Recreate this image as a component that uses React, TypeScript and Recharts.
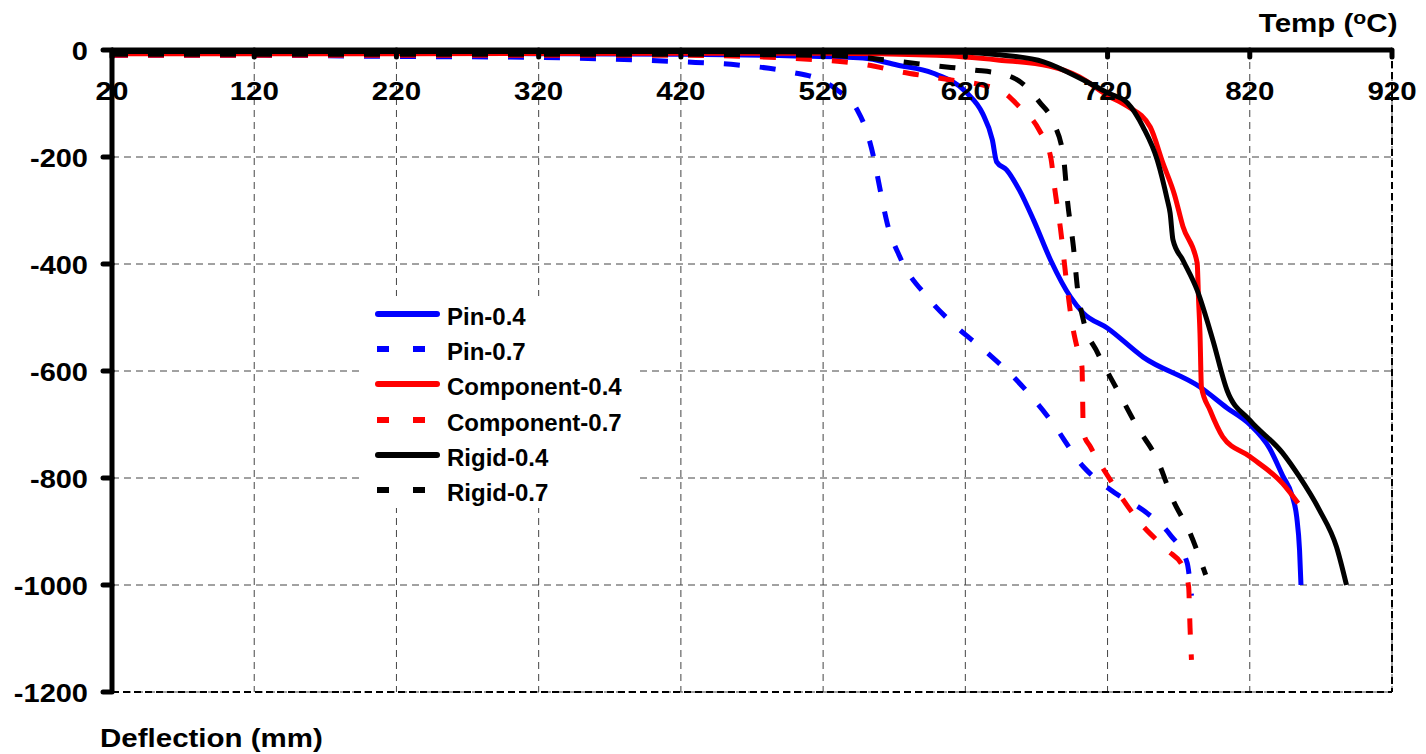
import React from 'react';
import { LineChart, Line, XAxis, YAxis, CartesianGrid, ReferenceLine, Legend } from 'recharts';

// axis ticks
const tempTicks = [20, 120, 220, 320, 420, 520, 620, 720, 820, 920];
const deflTicks = [0, -200, -400, -600, -800, -1000, -1200];

// Pin connection, load ratio 0.4 / 0.7
const pin04Temp = [20, 120, 220, 320, 420, 500, 548, 572, 597, 621, 632, 639, 642, 649, 658, 668, 680, 694, 703, 720, 745, 785, 804, 820, 834, 843, 850, 853, 855, 856];
const pin04Defl = [-6, -6, -6, -7, -8, -11, -15, -28, -43, -80, -118, -168, -209, -224, -262, -318, -393, -462, -492, -520, -574, -630, -669, -700, -745, -795, -835, -873, -935, -1000];
const pin07Temp = [20, 120, 220, 320, 420, 460, 497, 520, 530, 544, 551, 556, 560, 565, 574, 593, 611, 635, 656, 680, 703, 722, 748, 764, 776, 778, 779];
const pin07Defl = [-10, -10, -12, -14, -22, -28, -41, -58, -75, -112, -155, -206, -260, -323, -387, -461, -511, -565, -617, -692, -779, -822, -866, -906, -959, -996, -1020];

// Component-based connection
const comp04Temp = [20, 220, 420, 520, 600, 644, 679, 700, 720, 734, 750, 759, 767, 773, 783, 784, 785, 786, 792, 801, 820, 843, 854];
const comp04Defl = [-7, -7, -6, -6, -10, -19, -30, -50, -85, -105, -144, -212, -270, -330, -398, -467, -530, -630, -673, -723, -760, -810, -847];
const comp07Temp = [20, 220, 420, 520, 551, 575, 600, 644, 658, 672, 680, 683, 687, 691, 695, 699, 702, 703, 708, 722, 743, 762, 773, 777, 778, 779];
const comp07Defl = [-10, -10, -10, -19, -28, -41, -52, -75, -106, -150, -200, -262, -336, -430, -510, -561, -592, -716, -742, -804, -884, -935, -966, -1003, -1080, -1140];

// Rigid connection
const rigid04Temp = [20, 220, 420, 620, 644, 675, 703, 720, 734, 745, 755, 762, 764, 766, 773, 783, 794, 804, 820, 843, 855, 869, 881, 888];
const rigid04Defl = [-3, -3, -3, -4, -9, -22, -56, -80, -99, -144, -206, -280, -305, -355, -393, -449, -542, -636, -692, -753, -798, -860, -929, -1000];
const rigid07Temp = [20, 220, 420, 520, 551, 575, 601, 625, 649, 663, 672, 682, 689, 692, 696, 699, 703, 713, 727, 741, 755, 766, 778, 789];
const rigid07Defl = [-8, -8, -8, -10, -15, -22, -30, -37, -47, -69, -97, -136, -200, -286, -368, -449, -505, -566, -636, -705, -766, -841, -903, -981];

const toPoints = (t: number[], d: number[]) => t.map((v, i) => ({ temp: v, defl: d[i] }));

const series = [
  { name: 'Pin-0.4', color: '#0000ff', dashed: false, data: toPoints(pin04Temp, pin04Defl) },
  { name: 'Pin-0.7', color: '#0000ff', dashed: true, data: toPoints(pin07Temp, pin07Defl) },
  { name: 'Component-0.4', color: '#ff0000', dashed: false, data: toPoints(comp04Temp, comp04Defl) },
  { name: 'Component-0.7', color: '#ff0000', dashed: true, data: toPoints(comp07Temp, comp07Defl) },
  { name: 'Rigid-0.4', color: '#000000', dashed: false, data: toPoints(rigid04Temp, rigid04Defl) },
  { name: 'Rigid-0.7', color: '#000000', dashed: true, data: toPoints(rigid07Temp, rigid07Defl) },
];

const FONT = '"Liberation Sans", Arial, Helvetica, sans-serif';

// temp labels sit under the top axis line
const TempTick = (props: any) => {
  const { x, y, payload } = props;
  return (
    <g transform={`translate(${x},${y})`}>
      <line x1={0} y1={0} x2={0} y2={7} stroke="#000" strokeWidth={5} strokeLinecap="round" />
      <text transform="scale(1.18,1)" x={0} y={50} textAnchor="middle" fontSize={25} fontWeight="bold" fontFamily={FONT} fill="#000">
        {payload.value}
      </text>
    </g>
  );
};

const DeflTick = (props: any) => {
  const { x, y, payload } = props;
  return (
    <g transform={`translate(${x},${y})`}>
      <line x1={0} y1={0} x2={-9} y2={0} stroke="#000" strokeWidth={5} strokeLinecap="round" />
      <text transform="translate(-24,10) scale(1.16,1)" x={0} y={0} textAnchor="end" fontSize={25} fontWeight="bold" fontFamily={FONT} fill="#000">
        {payload.value}
      </text>
    </g>
  );
};

const renderLegend = () => (
  <div style={{ background: '#fff', width: 277, height: 212, fontFamily: FONT }}>
    {series.map((s) => (
      <div key={s.name} style={{ display: 'flex', alignItems: 'center', height: 35.3 }}>
        <svg width={80} height={12} style={{ overflow: 'visible' }}>
          <line
            x1={s.dashed ? 17 : 18}
            x2={s.dashed ? 80 : 77}
            y1={6}
            y2={6}
            stroke={s.color}
            strokeWidth={6}
            strokeDasharray={s.dashed ? '12 24' : undefined}
            strokeLinecap={s.dashed ? 'butt' : 'round'}
          />
        </svg>
        <span style={{ marginLeft: 7, fontSize: 24, fontWeight: 'bold', color: '#000', position: 'relative', top: 3 }}>{s.name}</span>
      </div>
    ))}
  </div>
);

export default function App() {
  return (
    <div style={{ position: 'absolute', left: 0, top: 0, width: 1426, height: 754, background: '#fff' }}>
      <LineChart width={1426} height={754} margin={{ top: 49, right: 34, bottom: 62, left: 111 }}>
        <CartesianGrid stroke="#444" strokeDasharray="7 5" strokeWidth={1} />
        <XAxis
          dataKey="temp"
          type="number"
          orientation="top"
          domain={[20, 920]}
          ticks={tempTicks}
          height={1}
          tickSize={0}
          tickMargin={0}
          tickLine={false}
          axisLine={{ stroke: '#000', strokeWidth: 5 }}
          tick={<TempTick />}
          interval={0}
        />
        <YAxis
          type="number"
          domain={[-1200, 0]}
          ticks={deflTicks}
          width={1}
          tickSize={0}
          tickMargin={0}
          tickLine={false}
          axisLine={{ stroke: '#000', strokeWidth: 5 }}
          tick={<DeflTick />}
          interval={0}
        />
        <ReferenceLine x={920} stroke="#000" strokeWidth={2} strokeDasharray="7 4" />
        <ReferenceLine y={-1200} stroke="#000" strokeWidth={2} strokeDasharray="7 4" />
        <Legend
          layout="vertical"
          align="center"
          verticalAlign="middle"
          content={renderLegend}
          wrapperStyle={{ left: 360, top: 296, width: 277 }}
        />
        {series.map((s) => (
          <Line
            key={s.name}
            name={s.name}
            data={s.data}
            dataKey="defl"
            type="monotone"
            stroke={s.color}
            strokeWidth={5}
            strokeDasharray={s.dashed ? '16 20' : undefined}
            strokeLinejoin="round"
            dot={false}
            activeDot={false}
            isAnimationActive={false}
          />
        ))}
      </LineChart>
      <div
        style={{
          position: 'absolute',
          right: 29,
          top: 11,
          fontFamily: FONT,
          fontSize: 25,
          lineHeight: '25px',
          fontWeight: 'bold',
          whiteSpace: 'nowrap',
          transform: 'scaleX(1.18)',
          transformOrigin: 'right center',
        }}
      >
        Temp (<span style={{ fontSize: 18, position: 'relative', top: -8 }}>o</span>C)
      </div>
      <div
        style={{
          position: 'absolute',
          left: 100,
          top: 726,
          fontFamily: FONT,
          fontSize: 25,
          lineHeight: '25px',
          fontWeight: 'bold',
          whiteSpace: 'nowrap',
          transform: 'scaleX(1.18)',
          transformOrigin: 'left center',
        }}
      >
        Deflection (mm)
      </div>
    </div>
  );
}
